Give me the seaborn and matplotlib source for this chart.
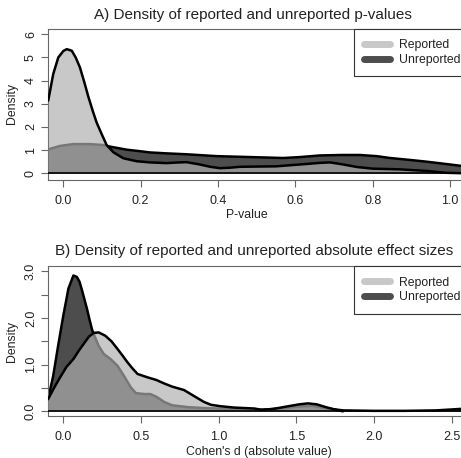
import matplotlib
matplotlib.use("Agg")
import matplotlib.pyplot as plt
from matplotlib.lines import Line2D
import seaborn as sns
import numpy as np

# ---------------- data ----------------
# Panel A: p-values
pA_rep_x = [-0.039, -0.026, -0.013, 0.0, 0.009, 0.022, 0.032, 0.043, 0.054, 0.065, 0.076, 0.086,
            0.099, 0.112, 0.13, 0.155, 0.19, 0.224, 0.267, 0.3, 0.319, 0.353, 0.38, 0.405, 0.43,
            0.457, 0.5, 0.55, 0.612, 0.664, 0.69, 0.724, 0.76, 0.8, 0.87, 0.94, 0.99, 1.039]
pA_rep_y = [3.14, 4.29, 5.0, 5.28, 5.36, 5.29, 5.0, 4.57, 3.95, 3.29, 2.7, 2.2,
            1.7, 1.22, 0.9, 0.65, 0.52, 0.47, 0.44, 0.47, 0.48, 0.38, 0.28, 0.22, 0.24,
            0.28, 0.29, 0.3, 0.38, 0.45, 0.47, 0.38, 0.27, 0.2, 0.17, 0.1, 0.02, 0.0]
pA_unr_x = [-0.039, -0.009, 0.026, 0.069, 0.103, 0.121, 0.164, 0.2, 0.224, 0.267, 0.319, 0.397,
            0.483, 0.569, 0.612, 0.664, 0.72, 0.767, 0.81, 0.845, 0.9, 0.94, 0.99, 1.039]
pA_unr_y = [1.03, 1.18, 1.26, 1.26, 1.22, 1.15, 1.02, 0.95, 0.9, 0.86, 0.82, 0.74,
            0.7, 0.66, 0.7, 0.77, 0.79, 0.79, 0.74, 0.66, 0.57, 0.5, 0.4, 0.3]

# Panel B: absolute effect sizes (Cohen's d)
dB_rep_x = [-0.098, -0.06, -0.022, 0.02, 0.065, 0.1, 0.13, 0.165, 0.196, 0.228, 0.27, 0.31,
            0.348, 0.38, 0.413, 0.445, 0.478, 0.54, 0.6, 0.647, 0.7, 0.777, 0.84, 0.906,
            0.95, 1.01, 1.1, 1.23, 1.28, 1.35, 1.45, 1.52, 1.575, 1.63, 1.7, 1.77, 1.8]
dB_rep_y = [0.26, 0.5, 0.72, 0.95, 1.12, 1.3, 1.44, 1.6, 1.68, 1.69, 1.62, 1.5,
            1.34, 1.2, 1.05, 0.92, 0.8, 0.73, 0.67, 0.6, 0.53, 0.456, 0.33, 0.2,
            0.14, 0.11, 0.08, 0.06, 0.03, 0.05, 0.11, 0.15, 0.17, 0.15, 0.08, 0.02, 0.0]
dB_unr_x = [-0.098, -0.065, -0.033, 0.0, 0.033, 0.065, 0.087, 0.104, 0.12, 0.136, 0.152, 0.17,
            0.185, 0.2, 0.228, 0.26, 0.304, 0.348, 0.39, 0.435, 0.467, 0.52, 0.56, 0.6,
            0.65, 0.7, 0.8, 0.9, 1.0, 1.1, 1.25, 1.4, 1.5, 1.6, 1.7, 1.8, 2.0, 2.2, 2.4, 2.5, 2.6]
dB_unr_y = [0.26, 0.76, 1.41, 2.05, 2.63, 2.91, 2.88, 2.78, 2.6, 2.4, 2.2, 1.95,
            1.75, 1.62, 1.4, 1.23, 1.12, 0.98, 0.76, 0.51, 0.39, 0.37, 0.37, 0.31,
            0.2, 0.13, 0.09, 0.07, 0.06, 0.05, 0.03, 0.06, 0.1, 0.12, 0.06, 0.02, 0.01, 0.01, 0.02, 0.04, 0.06]

legend_labels = ["Reported", "Unreported"]
titles = ["A) Density of reported and unreported p-values",
          "B) Density of reported and unreported absolute effect sizes"]
xlabels = ["P-value", "Cohen's d (absolute value)"]
A_xticks = [0.0, 0.2, 0.4, 0.6, 0.8, 1.0]
A_yticks = [0, 1, 2, 3, 4, 5, 6]
B_xticks = [0.0, 0.5, 1.0, 1.5, 2.0, 2.5]
B_yticks = [0.0, 0.5, 1.0, 1.5, 2.0, 2.5, 3.0]
B_ylabels = ["0.0", "", "1.0", "", "2.0", "", "3.0"]

# ---------------- style ----------------
sns.set_style("white")
plt.rcParams["font.family"] = ["Liberation Sans", "DejaVu Sans"]

W, H = 461, 458
fig = plt.figure(figsize=(W / 100, H / 100), dpi=100)

UNR_FILL = "#4d4d4d"
REP_FILL = (175 / 255, 175 / 255, 175 / 255)
REP_ALPHA = 0.685
FRAME = "#666666"
TXT = "#222222"

def px_axes(left, top, right, bottom):
    return fig.add_axes([left / W, 1 - bottom / H, (right - left) / W, (bottom - top) / H])

axA = px_axes(48, 29, 465, 180)
axB = px_axes(48, 266.3, 465, 415.7)

def draw(ax, rx, ry, ux, uy):
    ax.fill_between(ux, 0, uy, color=UNR_FILL, lw=0, zorder=1)
    sns.lineplot(x=ux, y=uy, ax=ax, color="black", lw=1.8, estimator=None, zorder=2)
    ax.fill_between(rx, 0, ry, color=REP_FILL, alpha=REP_ALPHA, lw=0, zorder=3)
    sns.lineplot(x=rx, y=ry, ax=ax, color="black", lw=1.8, estimator=None, zorder=4)
    ax.axhline(0, color="black", lw=1.2, zorder=5)

draw(axA, pA_rep_x, pA_rep_y, pA_unr_x, pA_unr_y)
draw(axB, dB_rep_x, dB_rep_y, dB_unr_x, dB_unr_y)

axA.set_xlim(-0.0396, (465 - 63.3) / 386.7)
axA.set_ylim(-0.29, 6.23)
axB.set_xlim(-0.0985, (465 - 63.3) / 155.36)
axB.set_ylim(-0.094, 3.107)

axA.set_xticks(A_xticks)
axA.set_xticklabels([f"{v:.1f}" for v in A_xticks])
axA.set_yticks(A_yticks)
axA.set_yticklabels([str(v) for v in A_yticks])
axB.set_xticks(B_xticks)
axB.set_xticklabels([f"{v:.1f}" for v in B_xticks])
axB.set_yticks(B_yticks)
axB.set_yticklabels(B_ylabels)

for ax in (axA, axB):
    ax.set_xlabel("")
    ax.set_ylabel("")
    for s in ax.spines.values():
        s.set_color(FRAME)
        s.set_linewidth(0.8)
    ax.tick_params(axis="both", direction="out", length=5, width=0.8, color=FRAME,
                   labelsize=9, labelcolor=TXT)
    ax.tick_params(axis="x", pad=6, bottom=True)
    ax.tick_params(axis="y", pad=3, left=True)
    for t in ax.get_yticklabels():
        t.set_rotation(90)
        t.set_va("center")
    handles = [Line2D([], [], color="#c8c8c8", lw=5, solid_capstyle="round"),
               Line2D([], [], color="#4d4d4d", lw=5, solid_capstyle="round")]
    leg = ax.legend(handles, legend_labels, loc="upper left",
                    bbox_to_anchor=((354 - 48) / (465 - 48), 1.0), borderaxespad=0,
                    fontsize=8.8, frameon=True, fancybox=False, framealpha=1,
                    handlelength=2.1, handletextpad=0.75, borderpad=0.85, labelspacing=0.2)
    leg.get_frame().set_edgecolor("#333333")
    leg.get_frame().set_linewidth(0.8)
    for t in leg.get_texts():
        t.set_color(TXT)

# titles and axis labels
fig.text(253 / W, 1 - 15 / H, titles[0], ha="center", va="center", fontsize=11, color=TXT)
fig.text(254 / W, 1 - 251 / H, titles[1], ha="center", va="center", fontsize=11, color=TXT)
fig.text(247 / W, 1 - 215 / H, xlabels[0], ha="center", va="center", fontsize=8.8, color=TXT)
fig.text(259 / W, 1 - 452 / H, xlabels[1], ha="center", va="center", fontsize=8.8, color=TXT)
fig.text(12 / W, 1 - 104 / H, "Density", ha="center", va="center", rotation=90, fontsize=8.8, color=TXT)
fig.text(12 / W, 1 - 341 / H, "Density", ha="center", va="center", rotation=90, fontsize=8.8, color=TXT)

fig.savefig("out.png", dpi=100)
